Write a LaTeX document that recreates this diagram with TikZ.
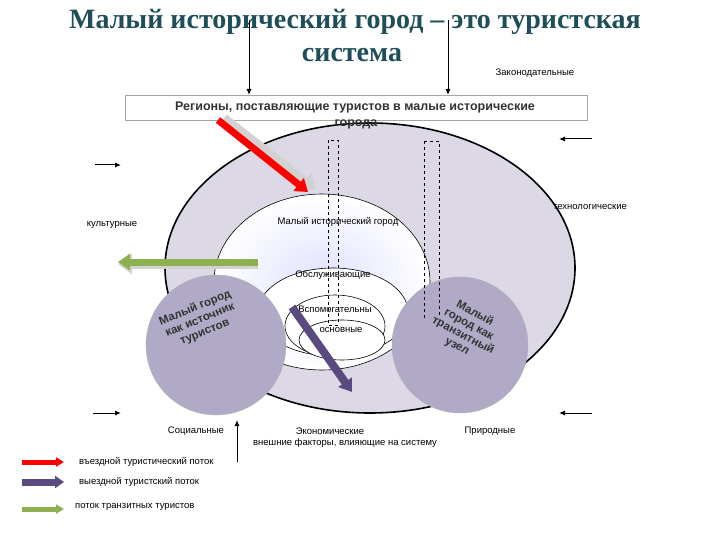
\documentclass[tikz,border=0pt]{standalone}
\usepackage{fontspec}
\setmainfont{Liberation Sans}
\newfontfamily\titlefont{Liberation Serif}
\usetikzlibrary{arrows.meta,calc}
\definecolor{lav}{HTML}{DCD8E6}
\definecolor{circ}{HTML}{B0AAC6}
\definecolor{ttl}{HTML}{1E4E58}
\definecolor{purp}{HTML}{5A4A80}
\definecolor{grn}{HTML}{8DB050}
\begin{document}
\begin{tikzpicture}[x=1pt,y=-1pt,
  lbl/.style={font=\fontsize{9.5}{11}\selectfont,inner sep=1pt},
  thin arrow/.style={-{Latex[length=6pt,width=5pt]},line width=1pt},
  fat/.style={line width=7pt,-{Triangle[length=12pt,width=16pt]}},
  shadow/.style={line width=9pt,draw=gray!35,-{Triangle[length=14pt,width=20pt]}}]
\useasboundingbox (0,0) rectangle (720,540);
% title
\node[font=\titlefont\bfseries\fontsize{28}{30}\selectfont,text=ttl] (t1) at (355,22) {Малый исторический город – это туристская};
\node[font=\titlefont\bfseries\fontsize{28}{30}\selectfont,text=ttl] (t2) at (352,55) {система};
\node[lbl] (zak) at (535,73) {Законодательные};
% big ellipse
\draw[line width=1.6pt,fill=lav] (370,268) ellipse [x radius=205,y radius=145];
\coordinate (ttop) at (249,20);
\coordinate (ttop2) at (448,20);
% region box
\node[draw=gray!70,fill=white,minimum width=462,minimum height=25,anchor=north west] (reg) at (125,95) {};
\node[font=\bfseries\fontsize{12.5}{14}\selectfont,text=black!80] (regt) at (355,107) {Регионы, поставляющие туристов в малые исторические};
\node[font=\bfseries\fontsize{12.5}{14}\selectfont,text=black!80] (regt2) at (356,124) {города};
\draw[thin arrow] (ttop) -- (reg.north -| ttop);
\draw[thin arrow] (ttop2) -- (reg.north -| ttop2);
% inner city ellipse
\shade[inner color=blue!12,outer color=white,draw=black,line width=0.6pt] (322,282) ellipse [x radius=108,y radius=88];
\node[lbl] (city) at (338,222) {Малый исторический город};
% nested ellipses
\draw[fill=white,line width=0.6pt] (333,312) ellipse [x radius=75,y radius=44];
\node[lbl] (obs) at (333,275) {Обслуживающие};
\draw[fill=white,line width=0.6pt] (335,326) ellipse [x radius=50,y radius=31];
\node[lbl] (vsp) at (335,309) {Вспомогательны};
\draw[fill=white,line width=0.6pt] (342,340) ellipse [x radius=43,y radius=20];
\node[lbl] (osn) at (341,330) {основные};
% side circles
\draw[fill=circ,draw=gray!60] (216,345) circle (70);
\draw[fill=circ,draw=gray!60] (460,345) circle (68);
\node[rotate=22,font=\bfseries\fontsize{11.5}{13}\selectfont,text=black!80,align=center] (src) at (200,320) {Малый город\\как источник\\туристов};
\node[rotate=-28,font=\bfseries\fontsize{11.5}{12.5}\selectfont,text=black!80,align=center] (tr) at (466,330) {Малый\\город как\\транзитный\\узел};
% dashed boxes
\draw[dashed,line width=0.5pt] (328,140) rectangle (338,325);
\draw[dashed,line width=0.5pt] (424,141) -- (439,141) -- (439,318) (424,141) -- (424,318);
% flows
\coordinate (ra) at (218,120); \coordinate (rb) at (308,192);
\draw[shadow] ($(ra)+(6,-2)$) -- ($(rb)+(8,-2)$);
\draw[fat,red] (ra) -- (rb);
\coordinate (ga) at (258,262); \coordinate (gb) at (118,262);
\draw[shadow] ($(ga)+(0,2)$) -- ($(gb)+(0,2)$);
\draw[fat,grn] (ga) -- (gb);
\coordinate (pa) at (292,307); \coordinate (pb) at (352,392);
\draw[fat,purp,line width=8pt] (pa) -- (pb);
% side arrows
\coordinate (l1a) at (95,165); \coordinate (l1b) at (121,165);
\draw[thin arrow] (l1a) -- (l1b);
\coordinate (r1a) at (592,139); \coordinate (r1b) at (559,139);
\draw[thin arrow] (r1a) -- (r1b);
\coordinate (l2a) at (93,413); \coordinate (l2b) at (121,413);
\draw[thin arrow] (l2a) -- (l2b);
\coordinate (r2a) at (592,413); \coordinate (r2b) at (559,413);
\draw[thin arrow] (r2a) -- (r2b);
\coordinate (ba) at (237,462); \coordinate (bb) at (237,420);
\draw[thin arrow] (ba) -- (bb);
% labels
\node[lbl] (tech) at (590,207) {технологические};
\node[lbl] (cult) at (112,225) {культурные};
\node[lbl] (soc) at (196,431) {Социальные};
\node[lbl] (eco) at (330,431) {Экономические};
\node[lbl] (ext) at (345,443) {внешние факторы, влияющие на систему};
\node[lbl] (nat) at (490,431) {Природные};
% legend
\coordinate (e1a) at (22,462); \coordinate (e1b) at (64,462);
\draw[fat,red,line width=5pt,-{Triangle[length=8pt,width=9pt]}] (e1a) -- (e1b);
\coordinate (e2a) at (22,482); \coordinate (e2b) at (64,482);
\draw[fat,purp,line width=7pt,-{Triangle[length=9pt,width=12pt]}] (e2a) -- (e2b);
\coordinate (e3a) at (22,509); \coordinate (e3b) at (64,509);
\draw[fat,grn,line width=5pt,-{Triangle[length=8pt,width=9pt]}] (e3a) -- (e3b);
\node[lbl,anchor=west] (l1) at (78,462) {въездной туристический поток};
\node[lbl,anchor=west] (l2) at (78,482) {выездной туристский поток};
\node[lbl,anchor=west] (l3) at (74,507) {поток транзитных туристов};
\end{tikzpicture}
\end{document}
